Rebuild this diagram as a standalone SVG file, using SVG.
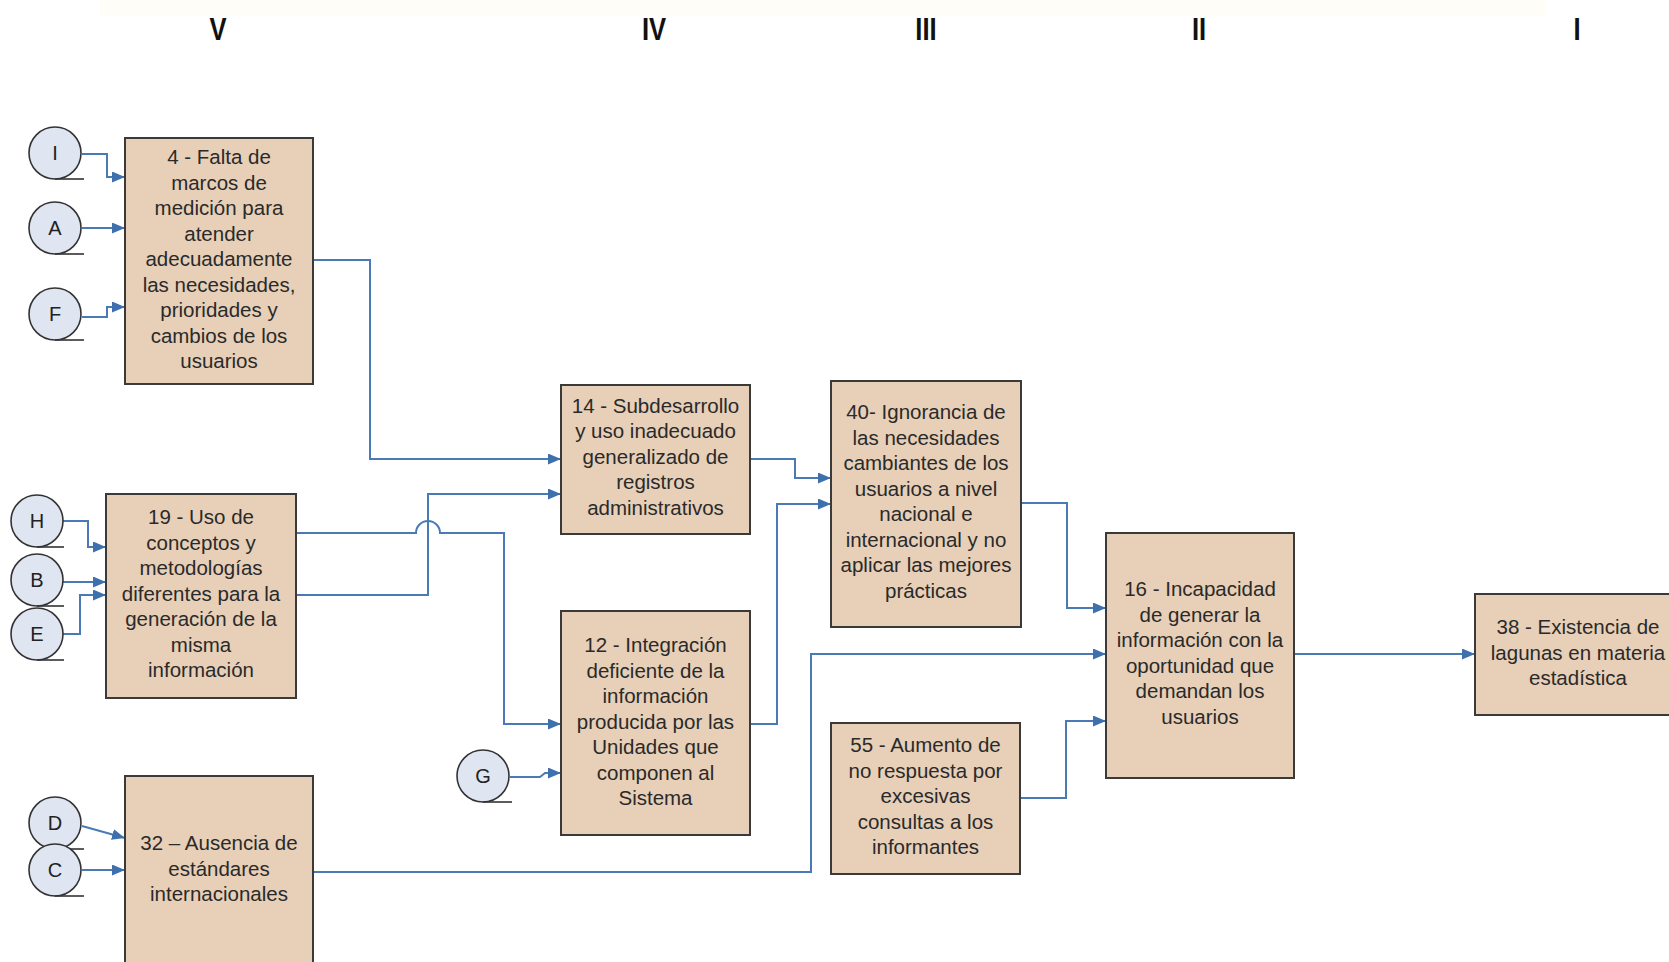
<svg xmlns="http://www.w3.org/2000/svg" width="1669" height="962" viewBox="0 0 1669 962">
<style>
.box{fill:#e7cfb8;stroke:#3a3a3a;stroke-width:2}
.circ{fill:#dfe5f1;stroke:#333;stroke-width:1.6}
.tail{stroke:#333;stroke-width:1.6;fill:none}
.t{font-family:"Liberation Sans",Arial,sans-serif;font-size:20.5px;fill:#2a2a2a;text-anchor:middle}
.ct{font-family:"Liberation Sans",Arial,sans-serif;font-size:20px;fill:#222;text-anchor:middle}
.col{font-family:"Liberation Sans",Arial,sans-serif;font-size:32px;font-weight:bold;fill:#111;text-anchor:middle}
.c{fill:none;stroke:#4a7ab5;stroke-width:2;marker-end:url(#ah)}
</style>
<defs>
<marker id="ah" markerUnits="userSpaceOnUse" markerWidth="13" markerHeight="11" refX="13" refY="5.5" orient="auto">
<path d="M0,0 L13,5.5 L0,11 z" fill="#3f70ae"/>
</marker>
</defs>
<rect x="0" y="0" width="1669" height="962" fill="#ffffff"/>
<rect x="100" y="0" width="1445" height="16" fill="#fffdf7"/>
<g id="columns">
<text class="col" transform="translate(218,40) scale(0.8,1)">V</text>
<text class="col" transform="translate(654,40) scale(0.8,1)">IV</text>
<text class="col" transform="translate(926,40) scale(0.8,1)">III</text>
<text class="col" transform="translate(1199,40) scale(0.8,1)">II</text>
<text class="col" transform="translate(1577,40) scale(0.8,1)">I</text>
</g>
<g id="connectors">
<path class="c" d="M82 154 H107 V177 H125"/>
<path class="c" d="M82 228 H125"/>
<path class="c" d="M82 317 H107 V307 H125"/>
<path class="c" d="M313 260 H370 V459 H561"/>
<path class="c" d="M63 521 H88 V547 H106"/>
<path class="c" d="M63 582 H106"/>
<path class="c" d="M63 634 H80 V595 H106"/>
<path class="c" d="M296 533 H416 A12 12 0 0 1 440 533 H504 V724 H561"/>
<path class="c" d="M296 595 H428 V494 H561"/>
<path class="c" d="M510 777 H540 L545 773 H561"/>
<path class="c" d="M750 724 H777 V504 H831"/>
<path class="c" d="M750 459 H795 V478 H831"/>
<path class="c" d="M1021 503 H1067 V608 H1106"/>
<path class="c" d="M313 872 H811 V654 H1106"/>
<path class="c" d="M1020 798 H1066 V721 H1106"/>
<path class="c" d="M1294 654 H1475"/>
<path class="c" d="M82 826 L125 838"/>
<path class="c" d="M82 870 H125"/>
</g>
<g id="ref-I"><circle class="circ" cx="55" cy="153" r="26"/><path class="tail" d="M55 179 H84"/><text class="ct" x="55" y="160">I</text></g>
<g id="ref-A"><circle class="circ" cx="55" cy="228" r="26"/><path class="tail" d="M55 254 H84"/><text class="ct" x="55" y="235">A</text></g>
<g id="ref-F"><circle class="circ" cx="55" cy="314" r="26"/><path class="tail" d="M55 340 H84"/><text class="ct" x="55" y="321">F</text></g>
<g id="ref-H"><circle class="circ" cx="37" cy="521" r="26"/><path class="tail" d="M37 547 H64"/><text class="ct" x="37" y="528">H</text></g>
<g id="ref-B"><circle class="circ" cx="37" cy="580" r="26"/><path class="tail" d="M37 606 H64"/><text class="ct" x="37" y="587">B</text></g>
<g id="ref-E"><circle class="circ" cx="37" cy="634" r="26"/><path class="tail" d="M37 660 H64"/><text class="ct" x="37" y="641">E</text></g>
<g id="ref-G"><circle class="circ" cx="483" cy="776" r="26"/><path class="tail" d="M483 802 H512"/><text class="ct" x="483" y="783">G</text></g>
<g id="ref-D"><circle class="circ" cx="55" cy="823" r="26"/><path class="tail" d="M55 849 H84"/><text class="ct" x="55" y="830">D</text></g>
<g id="ref-C"><circle class="circ" cx="55" cy="870" r="26"/><path class="tail" d="M55 896 H84"/><text class="ct" x="55" y="877">C</text></g>
<g id="n4"><rect class="box" x="125" y="138" width="188" height="246"/>
<text class="t" x="219" y="164">4 - Falta de</text>
<text class="t" x="219" y="189.5">marcos de</text>
<text class="t" x="219" y="215">medición para</text>
<text class="t" x="219" y="240.5">atender</text>
<text class="t" x="219" y="266">adecuadamente</text>
<text class="t" x="219" y="291.5">las necesidades,</text>
<text class="t" x="219" y="317">prioridades y</text>
<text class="t" x="219" y="342.5">cambios de los</text>
<text class="t" x="219" y="368">usuarios</text>
</g>
<g id="n19"><rect class="box" x="106" y="494" width="190" height="204"/>
<text class="t" x="201" y="524">19 - Uso de</text>
<text class="t" x="201" y="549.5">conceptos y</text>
<text class="t" x="201" y="575">metodologías</text>
<text class="t" x="201" y="600.5">diferentes para la</text>
<text class="t" x="201" y="626">generación de la</text>
<text class="t" x="201" y="651.5">misma</text>
<text class="t" x="201" y="677">información</text>
</g>
<g id="n32"><rect class="box" x="125" y="776" width="188" height="200"/>
<text class="t" x="219" y="850">32 – Ausencia de</text>
<text class="t" x="219" y="875.5">estándares</text>
<text class="t" x="219" y="901">internacionales</text>
</g>
<g id="n14"><rect class="box" x="561" y="385" width="189" height="149"/>
<text class="t" x="655.5" y="412.5">14 - Subdesarrollo</text>
<text class="t" x="655.5" y="438">y uso inadecuado</text>
<text class="t" x="655.5" y="463.5">generalizado de</text>
<text class="t" x="655.5" y="489">registros</text>
<text class="t" x="655.5" y="514.5">administrativos</text>
</g>
<g id="n12"><rect class="box" x="561" y="611" width="189" height="224"/>
<text class="t" x="655.5" y="652">12 - Integración</text>
<text class="t" x="655.5" y="677.5">deficiente de la</text>
<text class="t" x="655.5" y="703">información</text>
<text class="t" x="655.5" y="728.5">producida por las</text>
<text class="t" x="655.5" y="754">Unidades que</text>
<text class="t" x="655.5" y="779.5">componen al</text>
<text class="t" x="655.5" y="805">Sistema</text>
</g>
<g id="n40"><rect class="box" x="831" y="381" width="190" height="246"/>
<text class="t" x="926" y="419">40- Ignorancia de</text>
<text class="t" x="926" y="444.5">las necesidades</text>
<text class="t" x="926" y="470">cambiantes de los</text>
<text class="t" x="926" y="495.5">usuarios a nivel</text>
<text class="t" x="926" y="521">nacional e</text>
<text class="t" x="926" y="546.5">internacional y no</text>
<text class="t" x="926" y="572">aplicar las mejores</text>
<text class="t" x="926" y="597.5">prácticas</text>
</g>
<g id="n55"><rect class="box" x="831" y="723" width="189" height="151"/>
<text class="t" x="925.5" y="752">55 - Aumento de</text>
<text class="t" x="925.5" y="777.5">no respuesta por</text>
<text class="t" x="925.5" y="803">excesivas</text>
<text class="t" x="925.5" y="828.5">consultas a los</text>
<text class="t" x="925.5" y="854">informantes</text>
</g>
<g id="n16"><rect class="box" x="1106" y="533" width="188" height="245"/>
<text class="t" x="1200" y="596">16 - Incapacidad</text>
<text class="t" x="1200" y="621.5">de generar la</text>
<text class="t" x="1200" y="647">información con la</text>
<text class="t" x="1200" y="672.5">oportunidad que</text>
<text class="t" x="1200" y="698">demandan los</text>
<text class="t" x="1200" y="723.5">usuarios</text>
</g>
<g id="n38"><rect class="box" x="1475" y="594" width="210" height="121"/>
<text class="t" x="1578" y="634">38 - Existencia de</text>
<text class="t" x="1578" y="659.5">lagunas en materia</text>
<text class="t" x="1578" y="685">estadística</text>
</g>
</svg>
